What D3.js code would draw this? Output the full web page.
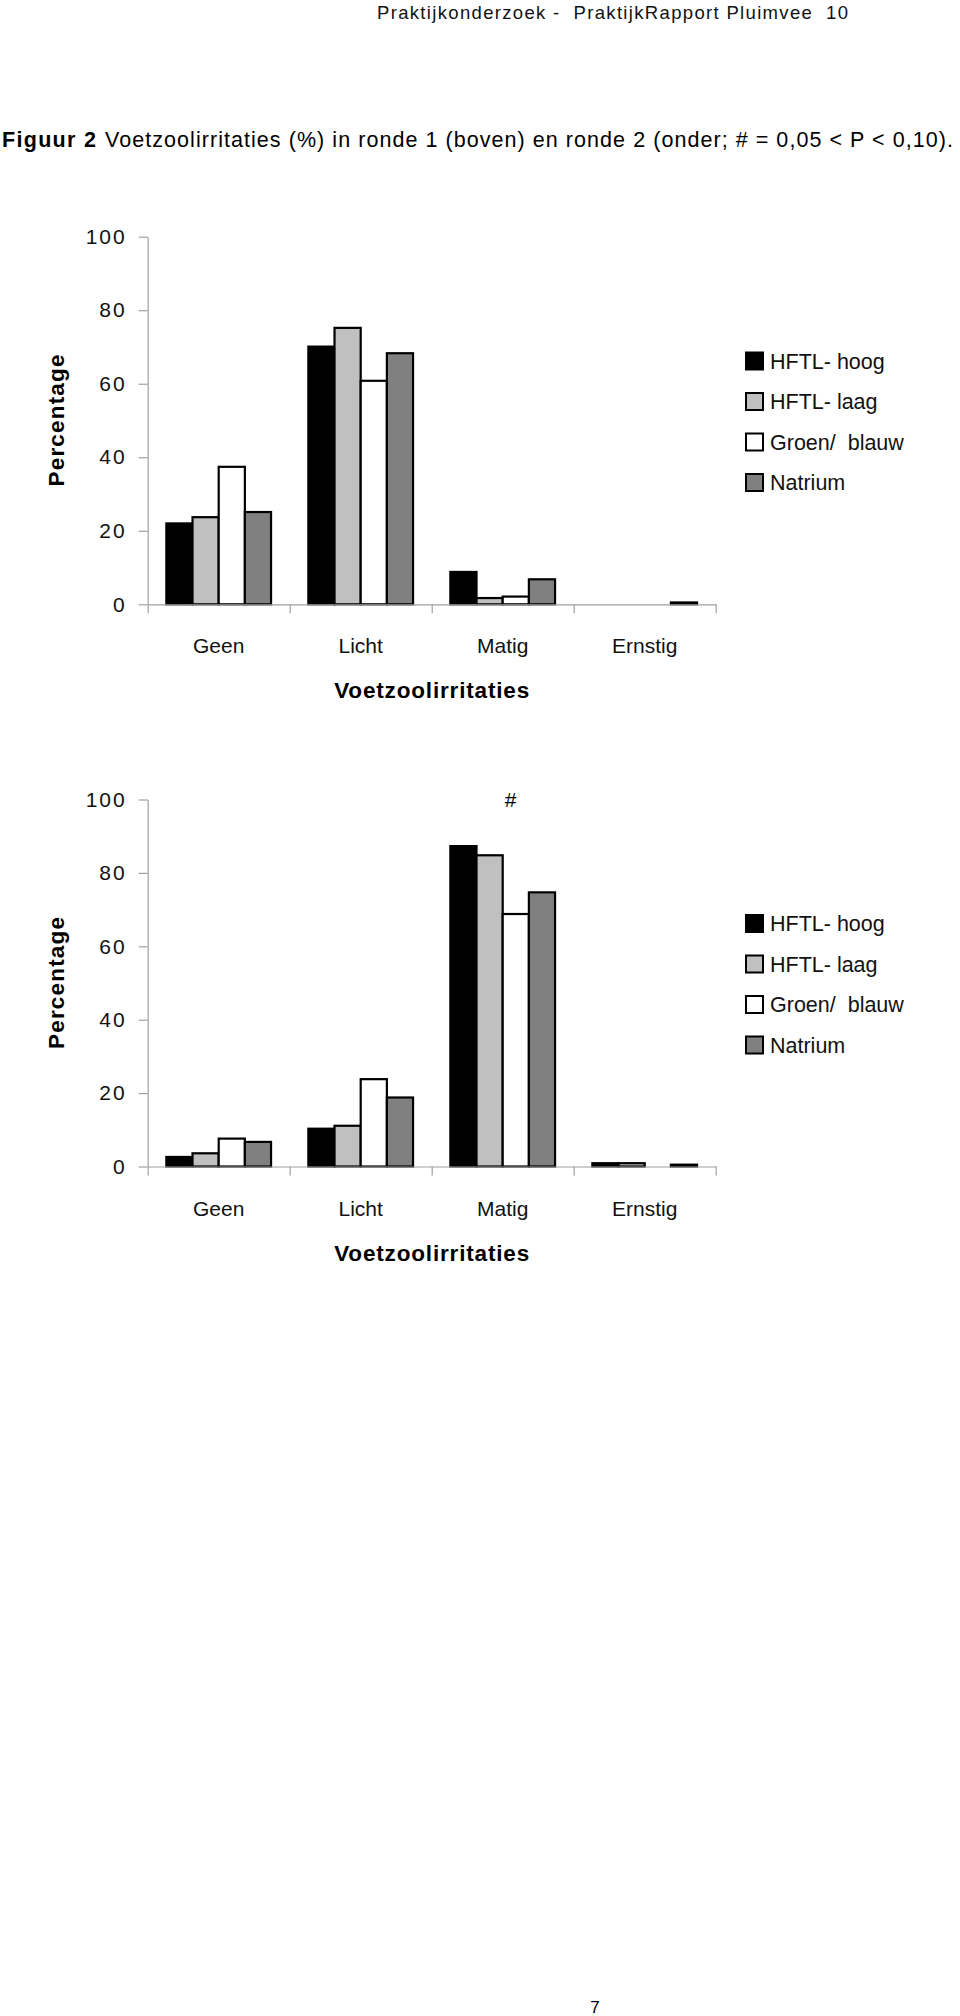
<!DOCTYPE html>
<html>
<head>
<meta charset="utf-8">
<script src="https://cdn.jsdelivr.net/npm/d3@7/dist/d3.min.js"></script>
<style>
  html, body { margin: 0; padding: 0; background: #fff; }
  svg { display: block; font-family: "Liberation Sans", Arial, Helvetica, sans-serif; }
</style>
</head>
<body>
<svg id="chart" width="960" height="2016"></svg>
<script>
// ---- data ----
const categories = ["Geen", "Licht", "Matig", "Ernstig"];
const seriesNames = ["HFTL- hoog", "HFTL- laag", "Groen/  blauw", "Natrium"];
const seriesColors = ["#000000", "#c0c0c0", "#ffffff", "#808080"];
const yTicks = [0, 20, 40, 60, 80, 100];

// Round 1 (boven)
const r1_hoog    = [22.0, 70.1, 8.8, 0];
const r1_laag    = [23.7, 75.2, 1.7, 0];
const r1_groen   = [37.4, 60.8, 2.1, 0];
const r1_natrium = [25.1, 68.3, 6.8, 0.5];
// Round 2 (onder)
const r2_hoog    = [2.6, 10.3, 87.3, 0.9];
const r2_laag    = [3.6, 11.1, 84.8, 0.9];
const r2_groen   = [7.6, 23.8, 68.8, 0];
const r2_natrium = [6.7, 18.8, 74.7, 0.5];

const headerText = "Praktijkonderzoek -  PraktijkRapport Pluimvee  10";
const captionBold = "Figuur 2";
const captionText = "Voetzoolirritaties (%) in ronde 1 (boven) en ronde 2 (onder; # = 0,05 < P < 0,10).";
const xTitle = "Voetzoolirritaties";
const yTitle = "Percentage";
const pageNumber = "7";
const sigMark = { category: "Matig", label: "#" };

const svg = d3.select("#chart");
const FONT = "\"Liberation Sans\", Arial, Helvetica, sans-serif";

// header
svg.append("text")
  .attr("x", 377).attr("y", 19)
  .attr("font-size", 18.5).attr("fill", "#111")
  .attr("textLength", 471).attr("lengthAdjust", "spacing")
  .style("white-space", "pre")
  .text(headerText);

// caption
const cap = svg.append("text").attr("y", 147).attr("font-size", 21.5).attr("fill", "#000");
cap.append("tspan").attr("x", 2).attr("font-weight", "bold")
  .attr("textLength", 94).attr("lengthAdjust", "spacing").text(captionBold);
cap.append("tspan").attr("x", 105)
  .attr("textLength", 848).attr("lengthAdjust", "spacing").text(captionText);

// page number
svg.append("text").attr("x", 595).attr("y", 2013)
  .attr("text-anchor", "middle").attr("font-size", 17).text(pageNumber);

function drawChart(opts) {
  const { data, y0, y100, mark } = opts;
  const g = svg.append("g");
  const xLeft = 147.7, xRight = 715.7;

  const x = d3.scaleBand().domain(categories).range([xLeft, xRight])
    .paddingInner(0.2627).paddingOuter(0.1313);
  const xs = d3.scaleBand().domain(seriesNames).range([0, x.bandwidth()]).padding(0);
  const y = d3.scaleLinear().domain([0, 100]).range([y0, y100]);

  // bars
  const rows = [];
  categories.forEach((c, ci) => {
    seriesNames.forEach((s, si) => {
      rows.push({ cat: c, ser: s, si, v: data[si][ci] });
    });
  });
  g.append("g").selectAll("rect")
    .data(rows.filter(d => d.v > 0))
    .join("rect")
    .attr("x", d => x(d.cat) + xs(d.ser))
    .attr("y", d => y(d.v))
    .attr("width", xs.bandwidth())
    .attr("height", d => y(0) - y(d.v))
    .attr("fill", d => seriesColors[d.si])
    .attr("stroke", "#000")
    .attr("stroke-width", 2.2);

  // y axis
  const yAxis = d3.axisLeft(y).tickValues(yTicks).tickSize(9).tickSizeOuter(0).tickPadding(14);
  const ya = g.append("g").attr("transform", `translate(${xLeft},0)`).call(yAxis);
  ya.select(".domain").attr("stroke", "#a0a0a0").attr("stroke-width", 1.2);
  ya.selectAll(".tick line").attr("stroke", "#a0a0a0").attr("stroke-width", 1.2);
  ya.selectAll(".tick text")
    .attr("font-family", FONT).attr("font-size", 21).attr("fill", "#111")
    .style("letter-spacing", "2px").attr("dx", "2px");

  // x axis line with boundary ticks
  const xb = d3.scaleLinear().domain([0, categories.length]).range([xLeft, xRight]);
  const xAxis = d3.axisBottom(xb).tickValues(d3.range(categories.length + 1))
    .tickSize(9).tickSizeOuter(0).tickFormat("");
  const xa = g.append("g").attr("transform", `translate(0,${y0})`).call(xAxis);
  xa.select(".domain").attr("stroke", "#a0a0a0").attr("stroke-width", 1.2);
  xa.selectAll(".tick line").attr("stroke", "#a0a0a0").attr("stroke-width", 1.2);

  // category labels
  g.append("g").selectAll("text").data(categories).join("text")
    .attr("x", d => x(d) + x.bandwidth() / 2)
    .attr("y", y0 + 49)
    .attr("text-anchor", "middle")
    .attr("font-size", 21).attr("fill", "#111")
    .text(d => d);

  // x title
  g.append("text")
    .attr("x", (xLeft + xRight) / 2).attr("y", y0 + 94)
    .attr("text-anchor", "middle").attr("font-weight", "bold").attr("font-size", 22.5)
    .attr("textLength", 195).attr("lengthAdjust", "spacing")
    .text(xTitle);

  // y title
  g.append("text")
    .attr("transform", `translate(64,${(y0 + y100) / 2}) rotate(-90)`)
    .attr("text-anchor", "middle").attr("font-weight", "bold").attr("font-size", 22.5)
    .attr("textLength", 132).attr("lengthAdjust", "spacing")
    .text(yTitle);

  // significance mark
  if (mark) {
    g.append("text")
      .attr("x", x(mark.category) + x.bandwidth() / 2 + 8)
      .attr("y", y(100)).attr("dy", "0.35em")
      .attr("text-anchor", "middle").attr("font-size", 21)
      .text(mark.label);
  }

  // legend
  const lg = g.append("g");
  const legTop = (y0 + y100) / 2 - 59.5;
  seriesNames.forEach((s, i) => {
    const cy = legTop + i * 40.5;
    lg.append("rect").attr("x", 746).attr("y", cy - 8.5)
      .attr("width", 17).attr("height", 17)
      .attr("fill", seriesColors[i]).attr("stroke", "#000").attr("stroke-width", 2);
    lg.append("text").attr("x", 770).attr("y", cy).attr("dy", "0.36em")
      .attr("font-size", 21.5).attr("fill", "#111")
      .style("white-space", "pre")
      .text(s);
  });
}

drawChart({ data: [r1_hoog, r1_laag, r1_groen, r1_natrium], y0: 604.3, y100: 236.7, mark: null });
drawChart({ data: [r2_hoog, r2_laag, r2_groen, r2_natrium], y0: 1166.5, y100: 799.5, mark: sigMark });
</script>
</body>
</html>
